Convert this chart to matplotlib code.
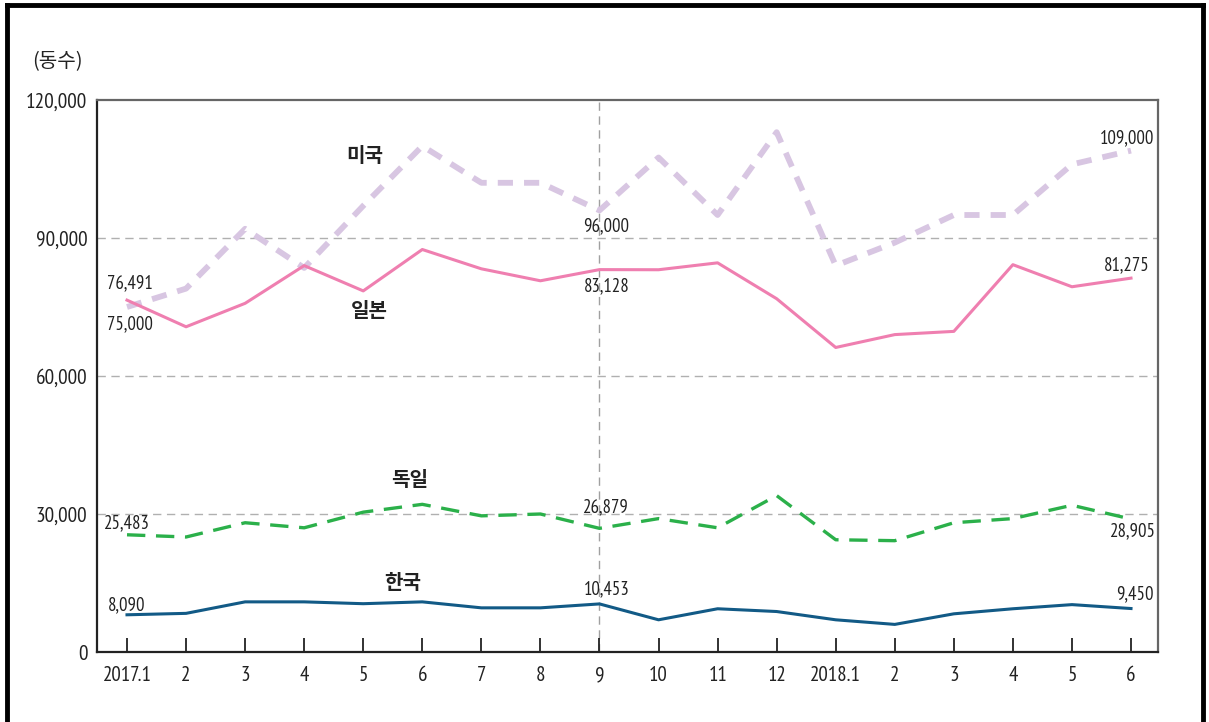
import matplotlib
matplotlib.use("Agg")
import matplotlib.pyplot as plt
from matplotlib.lines import Line2D
from matplotlib import font_manager

# ---------------- data ----------------
months = ["2017.1", "2", "3", "4", "5", "6", "7", "8", "9", "10", "11", "12",
          "2018.1", "2", "3", "4", "5", "6"]
usa = [75000, 79000, 92000, 83500, 97000, 110000, 102000, 102000, 96000,
       107500, 95000, 113000, 84000, 89000, 95000, 95000, 106000, 109000]
japan = [76491, 70700, 75800, 84000, 78500, 87500, 83300, 80700, 83128,
         83100, 84600, 76800, 66200, 69000, 69700, 84200, 79400, 81275]
germany = [25483, 25000, 28100, 27000, 30400, 32100, 29600, 30000, 26879,
           29000, 27000, 34000, 24400, 24200, 28100, 29000, 31900, 28905]
korea = [8090, 8400, 10900, 10900, 10500, 10900, 9600, 9600, 10453,
         7000, 9400, 8800, 7000, 6000, 8300, 9400, 10300, 9450]
yticks = [0, 30000, 60000, 90000, 120000]
ytick_labels = ["0", "30,000", "60,000", "90,000", "120,000"]
series_names = ["미국", "일본", "독일", "한국"]
unit_label = "(동수)"

# ---------------- fonts ----------------
installed = {f.name for f in font_manager.fontManager.ttflist}
prefs = ["Myriad Pro Condensed", "Myriad Pro", "PT Sans Narrow", "Roboto Condensed",
         "Fira Sans Condensed", "IBM Plex Sans Condensed", "Liberation Sans Narrow",
         "Asap Condensed", "Encode Sans Condensed", "Archivo Narrow",
         "Source Sans 3", "Source Sans Pro", "DejaVu Sans"]
num_font = next(p for p in prefs if p in installed)
NUM = [num_font, "Noto Sans CJK KR", "DejaVu Sans"]
KR = ["Noto Sans CJK KR", "DejaVu Sans"]
plt.rcParams["font.family"] = NUM

fig = plt.figure(figsize=(12.09, 7.22), dpi=100)
renderer = fig.canvas.get_renderer()

def fit_size(text, target_px, target_h_px, base=15.0):
    t = fig.text(0, 0, text, fontsize=base, family=NUM)
    w = t.get_window_extent(renderer=renderer).width
    t.remove()
    by_width = base * target_px / w
    by_height = target_h_px / 0.70 * 72 / 100.0
    return 0.5 * (by_width + by_height)

tick_fs = fit_size("120,000", 61, 15)
xtick_fs = fit_size("2017.1", 48, 15)
lab_fs = fit_size("76,491", 43, 14)

ax = fig.add_axes([97/1209, 1-652/722, (1158-97)/1209, (652-100)/722])

x = list(range(len(months)))

ax.plot(x, usa, color="#d8c6e2", lw=4.2, dashes=(2.6, 1.9),
        dash_capstyle="butt", zorder=3)
ax.plot(x, japan, color="#ef7fb0", lw=2.2, zorder=4)
ax.plot(x, germany, color="#2bb04a", lw=2.4, dashes=(5.5, 3.2), zorder=3)
ax.plot(x, korea, color="#125a86", lw=2.2, zorder=3)

ax.set_xlim(-0.508, 17.457)
ax.set_ylim(0, 120000)

# grid lines
for gy in yticks[1:-1]:
    ax.axhline(gy, color="#b0b0b0", lw=1.0, dashes=(6, 4), zorder=1)
ax.axvline(8, color="#a0a0a0", lw=1.0, dashes=(6, 4), zorder=1)

ax.set_xticks(x)
ax.set_xticklabels(months, fontsize=xtick_fs, color="#222222")
ax.set_yticks(yticks)
ax.set_yticklabels(ytick_labels, fontsize=tick_fs, color="#222222")
ax.tick_params(axis="x", direction="in", length=10, width=1.3, color="#222222", pad=10)
ax.tick_params(axis="y", length=0, pad=7)

for side in ["left", "bottom"]:
    ax.spines[side].set_color("#222222")
    ax.spines[side].set_linewidth(1.6)
for side in ["top", "right"]:
    ax.spines[side].set_color("#666666")
    ax.spines[side].set_linewidth(1.6)

# value labels
def lab(i, series, text, dx, dy):
    ax.annotate(text, (i, series[i]), xytext=(dx, dy), textcoords="offset pixels",
                ha="center", va="center", fontsize=lab_fs, color="#222222", zorder=6)

lab(0, japan, "76,491", 3, 17)
lab(0, usa, "75,000", 3, -17)
lab(8, usa, "96,000", 7, -16)
lab(8, japan, "83,128", 7, -17)
lab(17, usa, "109,000", -4, 12)
lab(17, japan, "81,275", -4, 13)
lab(0, germany, "25,483", 0, 12)
lab(8, germany, "26,879", 6, 21)
lab(17, germany, "28,905", 2, -12)
lab(0, korea, "8,090", 0, 10)
lab(8, korea, "10,453", 7, 15)
lab(17, korea, "9,450", 4, 14)

# series names
name_pos = [(4.03, 108000), (4.11, 74300), (4.79, 37600), (4.67, 15200)]
for name, (nx, ny) in zip(series_names, name_pos):
    ax.text(nx, ny, name, ha="center", va="center", fontsize=14.5,
            family=KR, fontweight="bold", color="#222222", zorder=6)

fig.text(32/1209, 1-62/722, unit_label, ha="left", va="center", fontsize=14.5,
         family=KR, color="#222222")

# outer frame (open at bottom)
frame_kw = dict(color="black", lw=3.5, transform=fig.transFigure, clip_on=False)
fig.add_artist(Line2D([7/1209, 7/1209], [0, 1-5/722], **frame_kw))
fig.add_artist(Line2D([7/1209, 1203/1209], [1-5/722, 1-5/722], **frame_kw))
fig.add_artist(Line2D([1203/1209, 1203/1209], [0, 1-5/722], **frame_kw))

fig.savefig("out.png", dpi=100)
